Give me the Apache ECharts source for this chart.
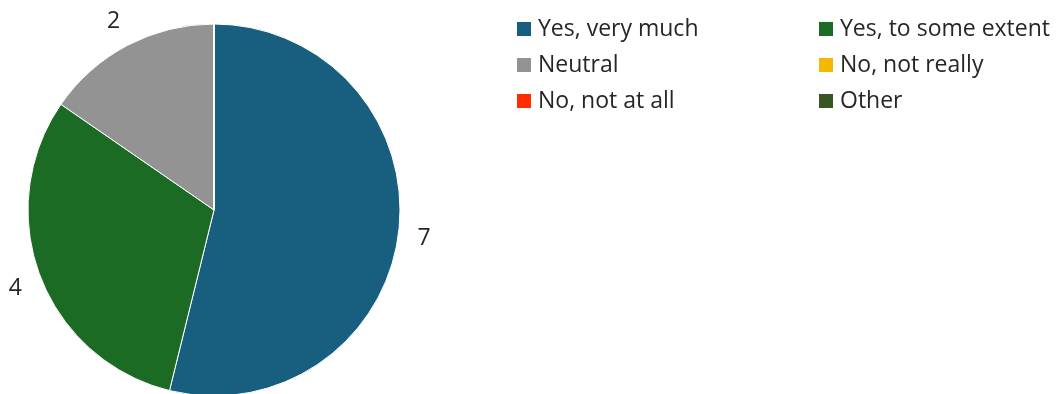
<!DOCTYPE html>
<html><head><meta charset="utf-8">
<script src="https://cdn.jsdelivr.net/npm/echarts@6/dist/echarts.min.js"></script>
<style>html,body{margin:0;padding:0;background:#fff}#c{width:1057px;height:394px}</style>
</head><body><div id="c"></div>
<script>
const categories = ['Yes, very much','Yes, to some extent','Neutral','No, not really','No, not at all','Other'];
const values = [7,4,2,0,0,0];
const colors = ['#175E7F','#1B6B24','#939393','#F5B800','#FF2D00','#375623'];
const legendCol1 = ['Yes, very much','Neutral','No, not at all'];
const legendCol2 = ['Yes, to some extent','No, not really','Other'];
const FONT = 'Open Sans';
const CX = 214, CY = 210, R = 186, GAP = 19;
const total = values.reduce((a,b)=>a+b,0);
const chart = echarts.init(document.getElementById('c'));
const legendBase = {
  orient:'vertical', top: 17, padding:0, itemWidth:14, itemHeight:14, itemGap:12, icon:'rect',
  itemStyle:{borderWidth:0},
  textStyle:{fontFamily:FONT,fontSize:23,color:'#262626', lineHeight:24, padding:[0,0,0,2]}, selectedMode:false
};
chart.setOption({
  animation:false,
  color: colors,
  legend:[
    Object.assign({}, legendBase, {left:517, data:legendCol1}),
    Object.assign({}, legendBase, {left:819, data:legendCol2})
  ],
  series:[{
    type:'pie', center:[CX,CY], radius:R, startAngle:90, clockwise:true,
    data: categories.map((n,i)=>({name:n, value:values[i], itemStyle:{color:colors[i]},
      label:{show: values[i] > 0}})),
    label:{position:'outside', fontFamily:FONT, fontSize:23, color:'#262626', overflow:'none',
      formatter: p => String(p.value)},
    labelLine:{show:false, length:20, length2:0},
    labelLayout: function(p){
      const i = p.dataIndex;
      let before = 0; for (let k=0;k<i;k++) before += values[k];
      const mid = (before + values[i]/2) / total * Math.PI * 2; // clockwise from top
      const dx = Math.sin(mid), dy = -Math.cos(mid);
      const hw = p.labelRect.width/2, hh = 12;
      const h = Math.sqrt((hw*dx)*(hw*dx) + (hh*dy)*(hh*dy));
      const d = R + GAP + h;
      return {x: CX + dx*d, y: CY + dy*d + 3, align:'center', verticalAlign:'middle'};
    },
    itemStyle:{borderColor:'#fff', borderWidth:1},
    emphasis:{disabled:true}
  }]
});
</script></body></html>
